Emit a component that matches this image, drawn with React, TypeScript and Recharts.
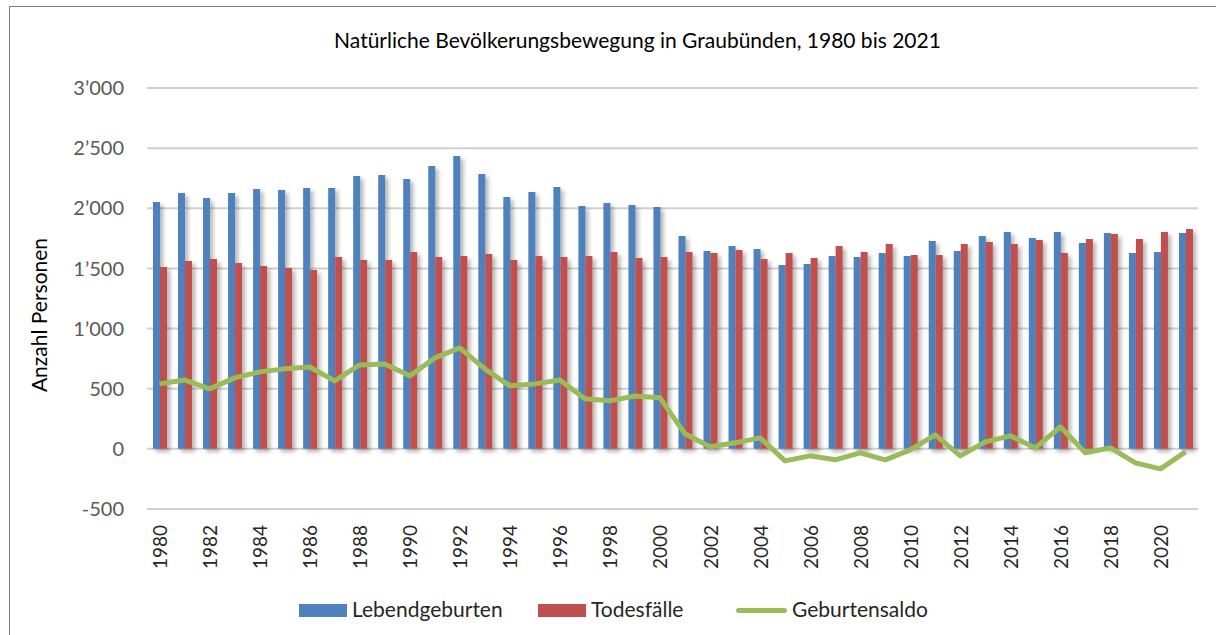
import React from "react";
import {
  ComposedChart,
  Bar,
  Line,
  XAxis,
  YAxis,
  CartesianGrid,
} from "recharts";

const years = [
  1980, 1981, 1982, 1983, 1984, 1985, 1986, 1987, 1988, 1989, 1990, 1991,
  1992, 1993, 1994, 1995, 1996, 1997, 1998, 1999, 2000, 2001, 2002, 2003,
  2004, 2005, 2006, 2007, 2008, 2009, 2010, 2011, 2012, 2013, 2014, 2015,
  2016, 2017, 2018, 2019, 2020, 2021,
];

const lebendgeburten = [
  2053, 2127, 2086, 2127, 2160, 2152, 2169, 2169, 2268, 2277, 2244, 2352,
  2435, 2285, 2094, 2136, 2177, 2019, 2044, 2028, 2011, 1770, 1645, 1687,
  1662, 1529, 1537, 1604, 1595, 1629, 1604, 1728, 1645, 1770, 1803, 1753,
  1803, 1712, 1795, 1629, 1637, 1795,
];

const todesfaelle = [
  1512, 1562, 1579, 1546, 1521, 1504, 1487, 1595, 1571, 1571, 1637, 1595,
  1604, 1620, 1571, 1604, 1595, 1604, 1637, 1587, 1595, 1637, 1629, 1654,
  1579, 1629, 1587, 1687, 1637, 1703, 1612, 1612, 1703, 1720, 1703, 1737,
  1629, 1745, 1787, 1745, 1803, 1828,
];

const geburtensaldo = [
  540, 573, 499, 590, 640, 665, 681, 565, 698, 706, 607, 756, 839, 665, 524,
  540, 573, 416, 399, 440, 424, 125, 17, 50, 91, -100, -58, -91, -33, -91,
  -8, 116, -58, 58, 108, 8, 183, -33, 8, -116, -166, -25,
];

const yTicks = [-500, 0, 500, 1000, 1500, 2000, 2500, 3000];

const data = years.map((y, i) => ({
  year: String(y),
  geb: lebendgeburten[i],
  tod: todesfaelle[i],
  saldo: geburtensaldo[i],
}));

const FONT = "Lato, 'Open Sans', sans-serif";
const BLUE = "#4F81BD";
const RED = "#C0504D";
const GREEN = "#9BBB59";

const fmt = (v: number) => {
  const s = String(Math.abs(v));
  const out = s.length > 3 ? s.slice(0, s.length - 3) + "\u2019" + s.slice(-3) : s;
  return v < 0 ? "-" + out : out;
};

const YearTick = (props: any) => {
  const { x, y, payload } = props;
  return (
    <text
      x={x}
      y={y}
      transform={`rotate(-90, ${x}, ${y})`}
      textAnchor="end"
      dominantBaseline="central"
      fontSize={19}
      fontFamily={FONT}
      fill="#262626"
    >
      {payload.value}
    </text>
  );
};

export default function App() {
  return (
    <div
      style={{
        position: "absolute",
        left: 0,
        top: 0,
        width: 1216,
        height: 635,
        background: "#fff",
        overflow: "hidden",
        fontFamily: FONT,
      }}
    >
      <div
        style={{
          position: "absolute",
          left: 9,
          top: 6,
          width: 1240,
          height: 660,
          border: "1px solid #7f7f7f",
        }}
      />
      <div
        style={{
          position: "absolute",
          left: 0,
          width: 1275,
          top: 27,
          textAlign: "center",
          fontSize: 21,
          color: "#000",
        }}
      >
        Natürliche Bevölkerungsbewegung in Graubünden, 1980 bis 2021
      </div>
      <div
        style={{
          position: "absolute",
          left: 38,
          top: 315,
          transform: "translate(-50%, -50%) rotate(-90deg)",
          whiteSpace: "nowrap",
          fontSize: 21,
          color: "#000",
        }}
      >
        Anzahl Personen
      </div>
      <svg width={0} height={0} style={{ position: "absolute" }}>
        <defs>
          <filter id="barShadow" x="-50%" y="-10%" width="250%" height="130%">
            <feDropShadow dx="3" dy="3" stdDeviation="2" floodColor="#000" floodOpacity="0.3" />
          </filter>
        </defs>
      </svg>
      <ComposedChart
        width={1216}
        height={635}
        data={data}
        margin={{ top: 88, right: 18, left: 0, bottom: 0 }}
        barGap={0}
        barSize={7}
        style={{ position: "absolute", left: 0, top: 0 }}
      >
        <CartesianGrid vertical={false} stroke="#D0D0D0" strokeWidth={2} />
        <XAxis
          dataKey="year"
          interval={1}
          tickLine={false}
          axisLine={false}
          tickSize={0}
          tickMargin={16}
          height={126}
          tick={<YearTick />}
        />
        <YAxis
          domain={[-500, 3000]}
          ticks={yTicks}
          interval={0}
          width={147}
          tickLine={false}
          axisLine={false}
          tickSize={6}
          tickMargin={17}
          tickFormatter={fmt}
          tick={{ fontSize: 20, fill: "#595959", fontFamily: FONT }}
        />
        <Bar
          dataKey="geb"
          fill={BLUE}
          isAnimationActive={false}
          style={{ filter: "url(#barShadow)" }}
        />
        <Bar
          dataKey="tod"
          fill={RED}
          isAnimationActive={false}
          style={{ filter: "url(#barShadow)" }}
        />
        <Line
          dataKey="saldo"
          type="linear"
          stroke={GREEN}
          strokeWidth={5}
          dot={false}
          strokeLinejoin="round"
          isAnimationActive={false}
        />
      </ComposedChart>
      <div style={{ position: "absolute", left: 299, top: 604, width: 48, height: 13, background: BLUE }} />
      <div style={{ position: "absolute", left: 352, top: 596, fontSize: 21, color: "#262626" }}>
        Lebendgeburten
      </div>
      <div style={{ position: "absolute", left: 538, top: 604, width: 48, height: 13, background: RED }} />
      <div style={{ position: "absolute", left: 591, top: 596, fontSize: 21, color: "#262626" }}>
        Todesfälle
      </div>
      <div
        style={{
          position: "absolute",
          left: 736,
          top: 608,
          width: 51,
          height: 5,
          borderRadius: 3,
          background: GREEN,
        }}
      />
      <div style={{ position: "absolute", left: 792, top: 596, fontSize: 21, color: "#262626" }}>
        Geburtensaldo
      </div>
    </div>
  );
}
